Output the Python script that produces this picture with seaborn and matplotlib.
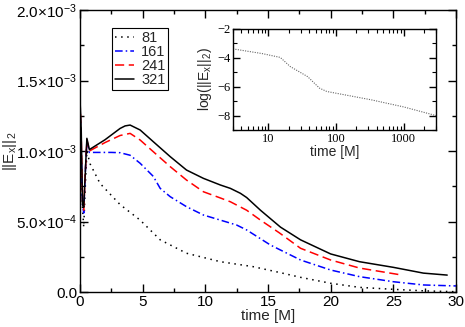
import matplotlib
matplotlib.use("Agg")
import matplotlib.pyplot as plt
import matplotlib.ticker as mticker
import numpy as np
import pandas as pd
import seaborn as sns

# main panel data (||E_x||_2 in units of 1e-3)
t_81 = [0, 0.1, 0.2, 0.3, 0.4, 0.55, 0.8, 1.6, 3.2, 4.8, 6.4, 8.5, 11.2, 13.8, 16, 17.6, 20, 22.3, 25, 27.5, 30]
e_81 = [1.3, 0.9, 0.6, 0.46, 0.7, 1.0, 0.91, 0.77, 0.62, 0.51, 0.37, 0.275, 0.215, 0.18, 0.137, 0.104, 0.062, 0.033, 0.019, 0.008, 0.002]

t_161 = [0, 0.1, 0.2, 0.3, 0.4, 0.55, 0.75, 1.5, 2.5, 3.2, 4, 4.8, 5.85, 6.4, 7.2, 8.5, 9.85, 11.2, 12.5, 13.3, 15.2, 17.6, 20, 22.3, 25, 27.4, 30]
e_161 = [1.35, 1.0, 0.62, 0.56, 0.8, 1.07, 0.99, 0.99, 0.99, 0.988, 0.97, 0.913, 0.82, 0.735, 0.676, 0.605, 0.546, 0.51, 0.475, 0.44, 0.333, 0.227, 0.156, 0.109, 0.073, 0.05, 0.043]

t_241 = [0, 0.1, 0.2, 0.3, 0.4, 0.55, 0.75, 2, 3.2, 4, 4.8, 5.85, 7.2, 8.5, 9.85, 11.2, 12, 13.3, 14.4, 15.9, 17.6, 20, 22.3, 25.7]
e_241 = [1.36, 1.1, 0.65, 0.58, 0.8, 1.08, 1.0, 1.06, 1.11, 1.125, 1.078, 0.995, 0.889, 0.794, 0.711, 0.667, 0.64, 0.58, 0.51, 0.42, 0.31, 0.227, 0.17, 0.12]

t_321 = [0, 0.1, 0.2, 0.3, 0.4, 0.55, 0.75, 2, 3.2, 3.6, 4, 4.8, 5.85, 7.2, 8.5, 9.85, 11.2, 12, 12.8, 13.3, 14.4, 16, 17.6, 20, 22.3, 25, 27.4, 29.3]
e_321 = [1.37, 1.15, 0.62, 0.6, 0.8, 1.09, 1.01, 1.08, 1.16, 1.178, 1.184, 1.149, 1.066, 0.96, 0.865, 0.806, 0.759, 0.735, 0.70, 0.67, 0.58, 0.46, 0.37, 0.27, 0.215, 0.175, 0.134, 0.12]

# inset data: log10 of the norm vs time
t_log = [3, 8, 15, 21, 38, 57, 73, 325, 1000, 3000]
log_e = [-3.38, -3.7, -3.97, -4.6, -5.3, -6.1, -6.33, -6.9, -7.4, -8.0]

y_ticks = [0, 0.5e-3, 1.0e-3, 1.5e-3, 2.0e-3]
y_labels = ["0.0", r"5.0$\times$10$^{-4}$", r"1.0$\times$10$^{-3}$",
            r"1.5$\times$10$^{-3}$", r"2.0$\times$10$^{-3}$"]

sns.set_theme(style="ticks")
plt.rcParams["font.family"] = ["Liberation Sans", "DejaVu Sans"]
plt.rcParams["mathtext.default"] = "regular"
plt.rcParams["mathtext.fontset"] = "custom"
plt.rcParams["mathtext.rm"] = "Liberation Sans"

series = [
    ("81", t_81, e_81, "black", (0, (1, 3))),
    ("161", t_161, e_161, "#0000ff", (0, (5, 2, 1, 2))),
    ("241", t_241, e_241, "#ff0000", (0, (6, 3))),
    ("321", t_321, e_321, "black", "-"),
]

fig = plt.figure(figsize=(4.65, 3.27), dpi=100)
ax = fig.add_axes([0.172, 0.107, 0.8086, 0.8624])

for name, t, e, col, ls in series:
    df = pd.DataFrame({"t": t, "e": np.array(e) * 1e-3})
    sns.lineplot(data=df, x="t", y="e", ax=ax, color=col, linestyle=ls,
                 linewidth=1.1, label=name, sort=False, estimator=None)

ax.set_xlim(0, 30)
ax.set_ylim(0, 2.0e-3)
ax.xaxis.set_major_locator(mticker.MultipleLocator(5))
ax.xaxis.set_minor_locator(mticker.MultipleLocator(2.5))
ax.set_yticks(y_ticks)
ax.set_yticklabels(y_labels)
ax.yaxis.set_minor_locator(mticker.MultipleLocator(0.25e-3))
ax.xaxis.set_ticks_position("both")
ax.yaxis.set_ticks_position("both")
ax.tick_params(which="both", direction="in", top=True, right=True, bottom=True, left=True,
               labelsize=11, pad=2, color="black", labelcolor="black")
ax.tick_params(which="major", length=5.5, width=1)
ax.tick_params(which="minor", length=3, width=1)
for s in ax.spines.values():
    s.set_linewidth(1.0)
    s.set_color("black")
ax.set_xlabel("time [M]", fontsize=11, labelpad=0)
ax.set_ylabel(r"||E$_x$||$_2$", fontsize=11)
ax.yaxis.set_label_coords(-0.163, 0.5)

leg = ax.legend(loc="upper left", bbox_to_anchor=(0.085, 0.935), fontsize=10.5,
                frameon=True, fancybox=False, edgecolor="black", framealpha=1,
                handlelength=1.3, handletextpad=0.5, borderpad=0.2,
                labelspacing=0.0, borderaxespad=0)
leg.get_frame().set_linewidth(0.8)

# inset
ins = fig.add_axes([0.501, 0.6024, 0.4366, 0.309])
df_in = pd.DataFrame({"t": t_log, "y": log_e})
sns.lineplot(data=df_in, x="t", y="y", ax=ins, color="#666666", linestyle=(0, (1, 1.2)),
             linewidth=0.8, sort=False, estimator=None)
ins.set_xscale("log")
ins.set_xlim(3, 3000)
ins.set_ylim(-9, -2)
ins.set_yticks([-8, -6, -4, -2])
ins.yaxis.set_minor_locator(mticker.MultipleLocator(1))
ins.xaxis.set_major_formatter(mticker.FuncFormatter(lambda v, p: f"{int(v)}"))
ins.tick_params(which="both", direction="in", top=True, right=True, labelsize=9,
                pad=2, color="black", labelcolor="black")
ins.tick_params(which="major", length=5, width=1)
ins.tick_params(which="minor", length=3, width=0.8)
for lab in ins.get_xticklabels() + ins.get_yticklabels():
    lab.set_fontfamily("Liberation Serif")
for s in ins.spines.values():
    s.set_linewidth(1.0)
    s.set_color("black")
ins.set_xlabel("time [M]", fontsize=10, labelpad=0)
ins.set_ylabel(r"log(||E$_x$||$_2$)", fontsize=10, labelpad=2)

fig.savefig("out.png", dpi=100)
